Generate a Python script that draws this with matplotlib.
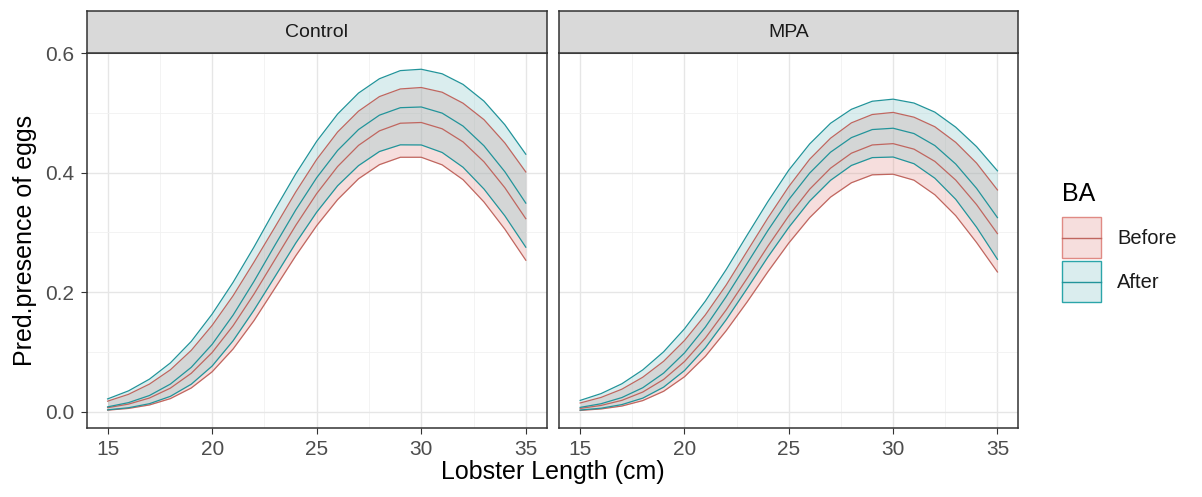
import matplotlib.pyplot as plt
from matplotlib.patches import Rectangle
from matplotlib.ticker import MultipleLocator

plt.rcParams['font.family'] = ['Liberation Sans', 'DejaVu Sans']

# Lobster length (cm)
length = [15, 16, 17, 18, 19, 20, 21, 22, 23, 24, 25,
          26, 27, 28, 29, 30, 31, 32, 33, 34, 35]

# Control panel, Before
ctrl_before_fit = [0.0065, 0.0125, 0.0227, 0.0392, 0.0641, 0.0989, 0.1437, 0.1967, 0.2543, 0.3119, 0.3651,
                   0.4104, 0.4458, 0.4701, 0.4829, 0.4841, 0.4736, 0.4516, 0.4183, 0.3748, 0.3230]
ctrl_before_hi = [0.0174, 0.0289, 0.0460, 0.0699, 0.1025, 0.1444, 0.1939, 0.2503, 0.3087, 0.3679, 0.4223,
                  0.4682, 0.5031, 0.5275, 0.5403, 0.5427, 0.5348, 0.5164, 0.4889, 0.4498, 0.4013]
ctrl_before_lo = [0.0024, 0.0053, 0.0111, 0.0217, 0.0395, 0.0667, 0.1048, 0.1523, 0.2065, 0.2610, 0.3114,
                  0.3550, 0.3899, 0.4135, 0.4259, 0.4259, 0.4132, 0.3883, 0.3510, 0.3054, 0.2535]
# Control panel, After
ctrl_after_fit = [0.0079, 0.0150, 0.0269, 0.0460, 0.0741, 0.1126, 0.1615, 0.2180, 0.2785, 0.3378, 0.3917,
                  0.4373, 0.4723, 0.4964, 0.5089, 0.5101, 0.4998, 0.4781, 0.4451, 0.4016, 0.3491]
ctrl_after_hi = [0.0212, 0.0347, 0.0543, 0.0814, 0.1175, 0.1633, 0.2164, 0.2755, 0.3381, 0.3982, 0.4527,
                 0.4983, 0.5334, 0.5574, 0.5710, 0.5733, 0.5657, 0.5479, 0.5199, 0.4803, 0.4310]
ctrl_after_lo = [0.0029, 0.0064, 0.0132, 0.0255, 0.0458, 0.0763, 0.1185, 0.1698, 0.2258, 0.2823, 0.3340,
                 0.3782, 0.4119, 0.4355, 0.4467, 0.4465, 0.4339, 0.4091, 0.3727, 0.3277, 0.2753]

# MPA panel, Before
mpa_before_fit = [0.0053, 0.0103, 0.0188, 0.0327, 0.0538, 0.0838, 0.1230, 0.1704, 0.2231, 0.2771, 0.3279,
                  0.3724, 0.4076, 0.4327, 0.4465, 0.4487, 0.4395, 0.4190, 0.3877, 0.3466, 0.2980]
mpa_before_hi = [0.0144, 0.0237, 0.0375, 0.0575, 0.0842, 0.1190, 0.1619, 0.2120, 0.2684, 0.3243, 0.3768,
                 0.4226, 0.4578, 0.4835, 0.4975, 0.5010, 0.4930, 0.4770, 0.4509, 0.4161, 0.3712]
mpa_before_lo = [0.0020, 0.0044, 0.0093, 0.0184, 0.0340, 0.0583, 0.0925, 0.1355, 0.1835, 0.2343, 0.2823,
                 0.3248, 0.3592, 0.3832, 0.3965, 0.3975, 0.3875, 0.3631, 0.3281, 0.2831, 0.2338]
# MPA panel, After
mpa_after_fit = [0.0070, 0.0131, 0.0235, 0.0399, 0.0644, 0.0982, 0.1415, 0.1925, 0.2479, 0.3034, 0.3550,
                 0.3994, 0.4344, 0.4588, 0.4723, 0.4745, 0.4656, 0.4455, 0.4146, 0.3738, 0.3248]
mpa_after_hi = [0.0187, 0.0301, 0.0466, 0.0698, 0.1001, 0.1386, 0.1850, 0.2379, 0.2953, 0.3518, 0.4044,
                0.4482, 0.4828, 0.5062, 0.5197, 0.5232, 0.5167, 0.5015, 0.4763, 0.4437, 0.4032]
mpa_after_lo = [0.0026, 0.0056, 0.0117, 0.0225, 0.0409, 0.0687, 0.1069, 0.1539, 0.2059, 0.2590, 0.3085,
                0.3525, 0.3873, 0.4122, 0.4253, 0.4263, 0.4151, 0.3908, 0.3555, 0.3087, 0.2550]

panels = ['Control', 'MPA']
groups = ['Before', 'After']
x_ticks = [15, 20, 25, 30, 35]
y_ticks = [0.0, 0.2, 0.4, 0.6]

data = {
    'Control': {'Before': (ctrl_before_lo, ctrl_before_fit, ctrl_before_hi),
                'After': (ctrl_after_lo, ctrl_after_fit, ctrl_after_hi)},
    'MPA': {'Before': (mpa_before_lo, mpa_before_fit, mpa_before_hi),
            'After': (mpa_after_lo, mpa_after_fit, mpa_after_hi)},
}

fill_col = {'Before': '#E2948F', 'After': '#86C6C9'}
line_col = {'Before': '#C0665F', 'After': '#22949A'}
key_edge = {'Before': '#E08A84', 'After': '#2BA5A9'}

W, H = 1202, 497
fig = plt.figure(figsize=(W / 100, H / 100), dpi=100)


def px_box(x0, y0, x1, y1):
    # pixel box (top-left origin) -> figure fraction rect
    return [x0 / W, 1 - y1 / H, (x1 - x0) / W, (y1 - y0) / H]


panel_px = [(86.7, 546.7), (559.3, 1018.3)]
panel_top, panel_bot, strip_top = 52.7, 427.7, 11.0

for i, name in enumerate(panels):
    x0, x1 = panel_px[i]
    ax = fig.add_axes(px_box(x0, panel_top, x1, panel_bot))
    for g in groups:
        lo, fit, hi = data[name][g]
        ax.fill_between(length, lo, hi, color=fill_col[g], alpha=0.3, lw=0, zorder=2)
        for s in (lo, fit, hi):
            ax.plot(length, s, color=line_col[g], lw=0.9, zorder=3)
    ax.set_xlim(14, 36)
    ax.set_ylim(-0.027, 0.601)
    ax.set_xticks(x_ticks)
    ax.set_yticks(y_ticks)
    ax.xaxis.set_minor_locator(MultipleLocator(2.5))
    ax.yaxis.set_minor_locator(MultipleLocator(0.1))
    ax.grid(which='major', color='#E6E6E6', lw=1.0, zorder=0)
    ax.grid(which='minor', color='#F1F1F1', lw=0.6, zorder=0)
    ax.set_axisbelow(True)
    ax.tick_params(which='minor', length=0)
    ax.tick_params(which='major', length=4.5, width=0.8, color='#333333',
                   labelcolor='#4D4D4D', labelsize=15, pad=4.5)
    if i == 1:
        ax.tick_params(axis='y', labelleft=False, length=0)
    for sp in ax.spines.values():
        sp.set_color('#333333')
        sp.set_linewidth(1.1)

    # facet strip
    st = fig.add_axes(px_box(x0, strip_top, x1, panel_top))
    st.set_facecolor('#D9D9D9')
    st.set_xticks([])
    st.set_yticks([])
    for sp in st.spines.values():
        sp.set_color('#333333')
        sp.set_linewidth(1.1)
    st.text(0.5, 0.48, name, ha='center', va='center', fontsize=14,
            color='#1A1A1A', transform=st.transAxes)

# axis titles
fig.text(552.5 / W, 1 - 472 / H, 'Lobster Length (cm)', ha='center', va='center', fontsize=18)
fig.text(25 / W, 1 - 240 / H, 'Pred.presence of eggs', ha='center', va='center',
         fontsize=18, rotation=90)

# legend
lg = fig.add_axes(px_box(1040, 170, 1202, 320))
lg.set_xlim(1040, 1202)
lg.set_ylim(320, 170)
lg.axis('off')
lg.text(1062, 206, 'BA', fontsize=18, ha='left', va='bottom')
for k, g in enumerate(groups):
    top = 217 + k * 44
    lg.add_patch(Rectangle((1062, top), 39, 41, facecolor=fill_col[g], alpha=0.3, lw=0))
    lg.add_patch(Rectangle((1062, top), 39, 41, facecolor='none', edgecolor=key_edge[g], lw=1.0))
    lg.plot([1062, 1101], [top + 20.5, top + 20.5], color=line_col[g], lw=1.0)
    lg.text(1117, top + 21, g, fontsize=14.5, ha='left', va='center', color='#1A1A1A')

fig.savefig('out.png', dpi=100)
